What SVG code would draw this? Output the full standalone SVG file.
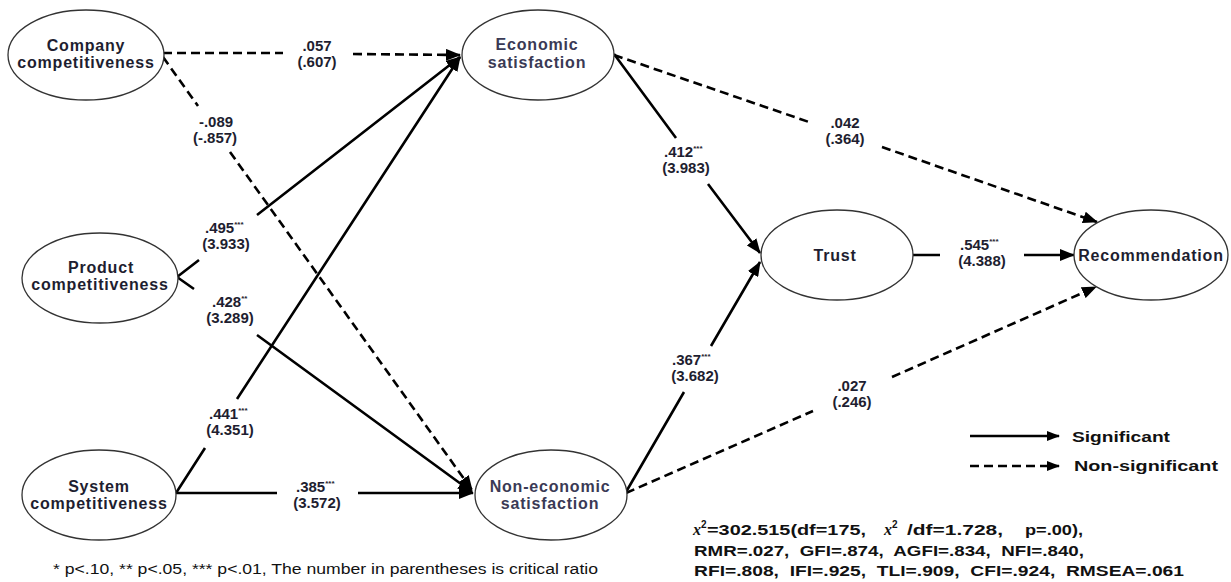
<svg xmlns="http://www.w3.org/2000/svg" width="1231" height="582" viewBox="0 0 1231 582">
<style>
.nd ellipse{fill:#fff;stroke:#333;stroke-width:1.3}
.nt{font-family:"Liberation Sans",Arial,sans-serif;font-weight:bold;font-size:16px;letter-spacing:0.8px;fill:#1e1e30;text-anchor:middle}
.nt2{fill:#3a3a55}
.ln{fill:none;stroke:#000;stroke-width:2.6}
.ds{stroke-dasharray:9 5}
.lb{font-family:"Liberation Sans",Arial,sans-serif;font-weight:bold;font-size:15px;fill:#1e1e30}
.mid{text-anchor:middle}
.sp{font-size:8px}
.st{font-family:"Liberation Sans",Arial,sans-serif;font-weight:bold;font-size:14px;fill:#111}
.fn{font-family:"Liberation Sans",Arial,sans-serif;font-size:14px;fill:#111}
</style>
<defs>
<marker id="ah" markerUnits="userSpaceOnUse" markerWidth="16" markerHeight="12" refX="14" refY="6" orient="auto">
<path d="M0,0 L15,6 L0,12 Z" fill="#000" stroke="none"/>
</marker>
<marker id="ahs" markerUnits="userSpaceOnUse" markerWidth="14" markerHeight="10" refX="12" refY="5" orient="auto">
<path d="M0,0 L13,5 L0,10 Z" fill="#000" stroke="none"/>
</marker>
</defs>
<rect width="1231" height="582" fill="#fff"/>

<g id="connectors">
<path class="ln ds" d="M163,53 L283,53 M353,54 L460,55" marker-end="url(#ah)"/>
<path class="ln ds" d="M163,57 L198,106 M230,152 L472,490" marker-end="url(#ah)"/>
<path class="ln" d="M177,277 L199,260 M257,215 L460,57" marker-end="url(#ah)"/>
<path class="ln" d="M177,277 L194,289 M257,335 L472,492" marker-end="url(#ah)"/>
<path class="ln" d="M176,493 L205,448 M237,399 L460,57" marker-end="url(#ah)"/>
<path class="ln" d="M176,493 L277,493 M358,493 L473,493" marker-end="url(#ah)"/>
<path class="ln" d="M614,54 L676,138 M708,184 L760,253" marker-end="url(#ah)"/>
<path class="ln" d="M626,492 L684,392 M711,346 L760,262" marker-end="url(#ah)"/>
<path class="ln" d="M913,255 L940,255 M1024,255 L1074,255" marker-end="url(#ah)"/>
<path class="ln ds" d="M614,55 L809,122 M882,147 L1097,222" marker-end="url(#ah)"/>
<path class="ln ds" d="M626,493 L813,411 M892,377 L1096,287" marker-end="url(#ah)"/>

<text class="lb mid" x="317" y="51">.057</text>
<text class="lb mid" x="317" y="67">(.607)</text>
<text class="lb mid" x="216" y="127">-.089</text>
<text class="lb mid" x="215" y="143">(-.857)</text>
<text class="lb" x="205" y="233">.495<tspan class="sp" dy="-6">***</tspan></text>
<text class="lb mid" x="226" y="249">(3.933)</text>
<text class="lb" x="212" y="307">.428<tspan class="sp" dy="-6">**</tspan></text>
<text class="lb mid" x="230" y="323">(3.289)</text>
<text class="lb" x="209" y="419">.441<tspan class="sp" dy="-6">***</tspan></text>
<text class="lb mid" x="230" y="435">(4.351)</text>
<text class="lb" x="296" y="492">.385<tspan class="sp" dy="-6">***</tspan></text>
<text class="lb mid" x="317" y="508">(3.572)</text>
<text class="lb" x="664" y="157">.412<tspan class="sp" dy="-6">***</tspan></text>
<text class="lb mid" x="686" y="173">(3.983)</text>
<text class="lb mid" x="845" y="128">.042</text>
<text class="lb mid" x="845" y="144">(.364)</text>
<text class="lb" x="960" y="250">.545<tspan class="sp" dy="-6">***</tspan></text>
<text class="lb mid" x="982" y="266">(4.388)</text>
<text class="lb" x="672" y="365">.367<tspan class="sp" dy="-6">***</tspan></text>
<text class="lb mid" x="695" y="381">(3.682)</text>
<text class="lb mid" x="852" y="391">.027</text>
<text class="lb mid" x="852" y="407">(.246)</text>
</g>

<g id="company" class="nd">
<ellipse cx="86" cy="55" rx="78" ry="45"/>
<text class="nt" x="86" y="51">Company</text>
<text class="nt" x="86" y="68">competitiveness</text>
</g>
<g id="product" class="nd">
<ellipse cx="100" cy="278" rx="78" ry="45"/>
<text class="nt" x="101" y="273">Product</text>
<text class="nt" x="100" y="290">competitiveness</text>
</g>
<g id="system" class="nd">
<ellipse cx="99" cy="495" rx="77" ry="45"/>
<text class="nt" x="99" y="492">System</text>
<text class="nt" x="99" y="509">competitiveness</text>
</g>
<g id="economic" class="nd">
<ellipse cx="538" cy="55" rx="76" ry="45"/>
<text class="nt nt2" x="537" y="50">Economic</text>
<text class="nt nt2" x="537" y="68">satisfaction</text>
</g>
<g id="noneconomic" class="nd">
<ellipse cx="551" cy="495" rx="76" ry="45"/>
<text class="nt nt2" x="550" y="492">Non-economic</text>
<text class="nt nt2" x="550" y="509">satisfaction</text>
</g>
<g id="trust" class="nd">
<ellipse cx="837" cy="255" rx="76" ry="45"/>
<text class="nt" x="835" y="261">Trust</text>
</g>
<g id="recommendation" class="nd">
<ellipse cx="1151" cy="255" rx="77" ry="45"/>
<text class="nt" x="1151" y="261">Recommendation</text>
</g>

<g id="legend">
<line class="ln" x1="970" y1="436" x2="1059" y2="436" marker-end="url(#ahs)"/>
<text class="st" x="1072" y="442" textLength="98" lengthAdjust="spacingAndGlyphs" font-size="15">Significant</text>
<line class="ln ds" x1="970" y1="466" x2="1059" y2="466" stroke-dasharray="7 4" marker-end="url(#ahs)"/>
<text class="st" x="1074" y="471" textLength="144" lengthAdjust="spacingAndGlyphs" font-size="15">Non-significant</text>
</g>

<g id="stats">
<text class="st" x="693" y="535"><tspan font-family="Liberation Serif" font-style="italic" font-size="16">x</tspan><tspan font-size="10" dy="-7">2</tspan></text>
<text class="st" x="707" y="535" textLength="159" lengthAdjust="spacingAndGlyphs">=302.515(df=175,</text>
<text class="st" x="884" y="535"><tspan font-family="Liberation Serif" font-style="italic" font-size="16">x</tspan><tspan font-size="10" dy="-7">2</tspan></text>
<text class="st" x="907" y="535" textLength="96" lengthAdjust="spacingAndGlyphs">/df=1.728,</text>
<text class="st" x="1025" y="535" textLength="58" lengthAdjust="spacingAndGlyphs">p=.00),</text>
<text class="st" x="694" y="556" textLength="390" lengthAdjust="spacingAndGlyphs" style="white-space:pre">RMR=.027,  GFI=.874,  AGFI=.834,  NFI=.840,</text>
<text class="st" x="694" y="576" textLength="490" lengthAdjust="spacingAndGlyphs" style="white-space:pre">RFI=.808,  IFI=.925,  TLI=.909,  CFI=.924,  RMSEA=.061</text>
</g>

<text id="footnote" class="fn" x="53" y="574" textLength="545" lengthAdjust="spacingAndGlyphs">* p&lt;.10, ** p&lt;.05, *** p&lt;.01, The number in parentheses is critical ratio</text>
</svg>
